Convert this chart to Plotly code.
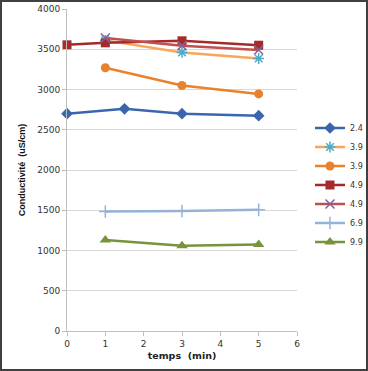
import plotly.graph_objects as go

# Data
names = ["2.4", "3.9", "3.9", "4.9", "4.9", "6.9", "9.9"]
x_24 = [0, 1.5, 3, 5]
y_24 = [2700, 2760, 2700, 2675]
x_39a = [1, 3, 5]
y_39a = [3610, 3460, 3385]
x_39b = [1, 3, 5]
y_39b = [3270, 3050, 2945]
x_49a = [0, 1, 3, 5]
y_49a = [3555, 3580, 3605, 3550]
x_49b = [1, 3, 5]
y_49b = [3640, 3545, 3490]
x_69 = [1, 3, 5]
y_69 = [1485, 1490, 1505]
x_99 = [1, 3, 5]
y_99 = [1130, 1060, 1075]

series = [
    (x_24, y_24, "#3A66AE", dict(symbol="diamond", size=9, color="#3A66AE")),
    (x_39a, y_39a, "#F9A65A", dict(symbol="asterisk-open", size=9, color="#4BACC6",
                                   line=dict(color="#4BACC6", width=1.5))),
    (x_39b, y_39b, "#E8822E", dict(symbol="circle", size=9, color="#E8822E")),
    (x_49a, y_49a, "#A52A2A", dict(symbol="square", size=9, color="#A52A2A")),
    (x_49b, y_49b, "#C0504D", dict(symbol="x-thin-open", size=9, color="#8064A2",
                                   line=dict(color="#8064A2", width=1.5))),
    (x_69, y_69, "#95B3D7", dict(symbol="cross-thin-open", size=9, color="#95B3D7",
                                 line=dict(color="#95B3D7", width=1.5))),
    (x_99, y_99, "#77933C", dict(symbol="triangle-up", size=10, color="#77933C")),
]

fig = go.Figure()
for name, (xs, ys, col, mk) in zip(names, series):
    fig.add_trace(go.Scatter(x=xs, y=ys, name=name, mode="lines+markers",
                             line=dict(color=col, width=2.5), marker=mk,
                             cliponaxis=False))

W, H = 368, 371
ml, mr, mt, mb = 67, 71, 9, 40
pw, ph = W - ml - mr, H - mt - mb

def px_x(p):
    return (p - ml) / pw

def px_y(p):
    return (H - mb - p) / ph

fig.update_layout(
    width=W, height=H,
    margin=dict(l=ml, r=mr, t=mt, b=mb, autoexpand=False),
    paper_bgcolor="white", plot_bgcolor="white",
    font=dict(family="DejaVu Sans", size=9, color="#333333"),
    showlegend=True,
    legend=dict(xref="container", yref="container", x=310 / W, y=1 - 185 / H,
                xanchor="left", yanchor="middle",
                font=dict(size=8, family="DejaVu Sans"), tracegroupgap=0,
                itemwidth=30, bgcolor="rgba(0,0,0,0)", borderwidth=0),
    xaxis=dict(range=[0, 6], tickvals=[0, 1, 2, 3, 4, 5, 6], showgrid=False,
               showline=True, linecolor="#BFBFBF", linewidth=1, ticks="outside",
               ticklen=4, tickcolor="#BFBFBF", zeroline=False, automargin=False,
               title=dict(text="<b>temps  (min)</b>", font=dict(size=9.5, family="DejaVu Sans", color="#222222"),
                          standoff=4)),
    yaxis=dict(range=[0, 4000], tickvals=[0, 500, 1000, 1500, 2000, 2500, 3000, 3500, 4000],
               showgrid=True, gridcolor="#D9D9D9", gridwidth=1,
               showline=True, linecolor="#BFBFBF", linewidth=1, ticks="outside",
               ticklen=4, tickcolor="#BFBFBF", zeroline=False, automargin=False,
               title=dict(text="<b>Conductivité  (uS/cm)</b>",
                          font=dict(size=9, family="Liberation Sans Narrow, Liberation Sans", color="#111111"),
                          standoff=10)),
    shapes=[dict(type="rect", xref="paper", yref="paper",
                 x0=px_x(1), x1=px_x(367), y0=px_y(370), y1=px_y(1),
                 line=dict(color="#404040", width=2), fillcolor="rgba(0,0,0,0)", layer="above")],
)

fig.write_html("out.html", config={"displayModeBar": False},
               post_script="document.body.style.margin='0';document.body.style.overflow='hidden';")
